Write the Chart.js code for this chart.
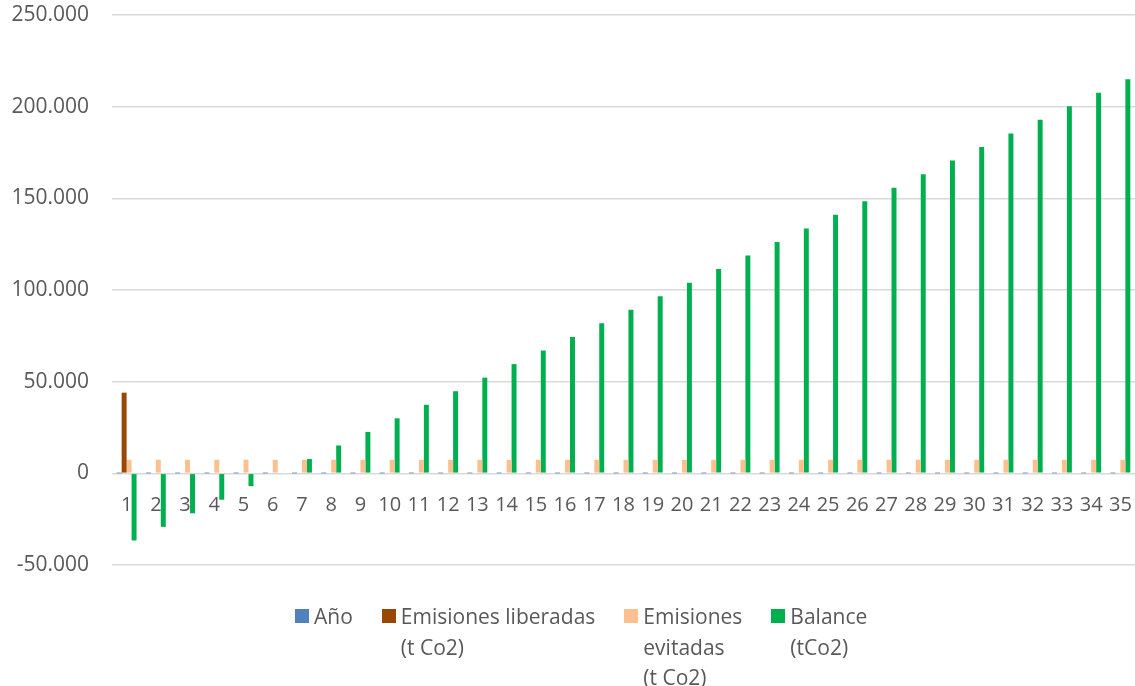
<!DOCTYPE html>
<html lang="es">
<head>
<meta charset="utf-8">
<title>Balance de emisiones</title>
<script src="https://cdn.jsdelivr.net/npm/chart.js@4.4.0/dist/chart.umd.min.js"></script>
<style>
  html, body { margin: 0; padding: 0; background: #ffffff; }
  #wrap { position: relative; width: 1135px; height: 686px; }
  #legend {
    position: absolute; left: 295px; top: 601px;
    display: flex; align-items: flex-start;
    font-family: "Open Sans", sans-serif; font-size: 21px;
    color: #595959; line-height: 30.5px;
  }
  .item { display: flex; align-items: flex-start; margin-right: 29px; }
  .box { width: 14px; height: 14px; margin-top: 8px; margin-right: 5px; flex: none; }
</style>
</head>
<body>
<div id="wrap">
  <canvas id="chart" width="1135" height="686"></canvas>
  <div id="legend"></div>
</div>
<script>
// Años del periodo
const years = ['1','2','3','4','5','6','7','8','9','10','11','12','13','14','15','16','17','18',
  '19','20','21','22','23','24','25','26','27','28','29','30','31','32','33','34','35'];

// Serie "Año"
const anio = [1,2,3,4,5,6,7,8,9,10,11,12,13,14,15,16,17,18,19,20,21,22,23,24,25,26,27,28,29,30,31,32,33,34,35];

// Emisiones liberadas (t CO2)
const liberadas = [44000,0,0,0,0,0,0,0,0,0,0,0,0,0,0,0,0,0,0,0,0,0,0,0,0,0,0,0,0,0,0,0,0,0,0];

// Emisiones evitadas (t CO2)
const evitadas = [7400,7400,7400,7400,7400,7400,7400,7400,7400,7400,7400,7400,7400,7400,7400,7400,7400,7400,
  7400,7400,7400,7400,7400,7400,7400,7400,7400,7400,7400,7400,7400,7400,7400,7400,7400];

// Balance acumulado (t CO2)
const balance = [-36600,-29200,-21800,-14400,-7000,400,7800,15200,22600,30000,37400,44800,52200,59600,
  67000,74400,81800,89200,96600,104000,111400,118800,126200,133600,141000,148400,155800,163200,
  170600,178000,185400,192800,200200,207600,215000];

// Textos de la leyenda, con sus saltos de línea
const legendLines = [
  ['Año'],
  ['Emisiones liberadas', '(t Co2)'],
  ['Emisiones', 'evitadas', '(t Co2)'],
  ['Balance', '(tCo2)']
];

const colors = ['#4f81bd', '#974706', '#fac090', '#00b050'];
const textColor = '#595959';
const series = [anio, liberadas, evitadas, balance];

const fmt = v => {
  const s = Math.abs(v).toString().replace(/\B(?=(\d{3})+(?!\d))/g, '.');
  return (v < 0 ? '-' : '') + s;
};

// Las etiquetas pueden salir del área de trazado: sin márgenes extra
const noPad = s => { s.paddingLeft = 0; s.paddingRight = 0; s.paddingTop = 0; s.paddingBottom = 0; };

const chart = new Chart(document.getElementById('chart'), {
  type: 'bar',
  data: {
    labels: years,
    datasets: series.map((d, i) => ({
      label: legendLines[i].join(' '),
      data: d,
      backgroundColor: colors[i],
      borderWidth: 0,
      inflateAmount: 0
    }))
  },
  options: {
    responsive: false,
    animation: false,
    layout: { padding: { left: 0, right: 0, top: 15, bottom: 121 } },
    datasets: { bar: { categoryPercentage: 0.68, barPercentage: 1.0 } },
    plugins: { legend: { display: false }, tooltip: { enabled: false } },
    scales: {
      x: {
        position: { y: 0 },
        grid: { display: false, drawTicks: false },
        border: { display: false },
        ticks: {
          padding: 20, color: textColor, autoSkip: false, maxRotation: 0,
          font: { family: 'Open Sans', size: 20 }
        },
        afterFit: noPad
      },
      y: {
        min: -50000, max: 250000,
        grid: { color: '#d9d9d9', lineWidth: 1.5, drawTicks: false },
        border: { display: false },
        ticks: {
          stepSize: 50000, padding: 23, color: textColor,
          font: { family: 'Open Sans', size: 21 },
          callback: v => fmt(v)
        },
        afterFit: s => { s.width = 112; noPad(s); }
      }
    }
  }
});

// Leyenda inferior
const legend = document.getElementById('legend');
chart.data.datasets.forEach((ds, i) => {
  const item = document.createElement('div');
  item.className = 'item';
  const box = document.createElement('div');
  box.className = 'box';
  box.style.background = colors[i];
  const txt = document.createElement('div');
  legendLines[i].forEach(line => {
    const l = document.createElement('div');
    l.textContent = line;
    txt.appendChild(l);
  });
  item.appendChild(box);
  item.appendChild(txt);
  legend.appendChild(item);
});
</script>
</body>
</html>
